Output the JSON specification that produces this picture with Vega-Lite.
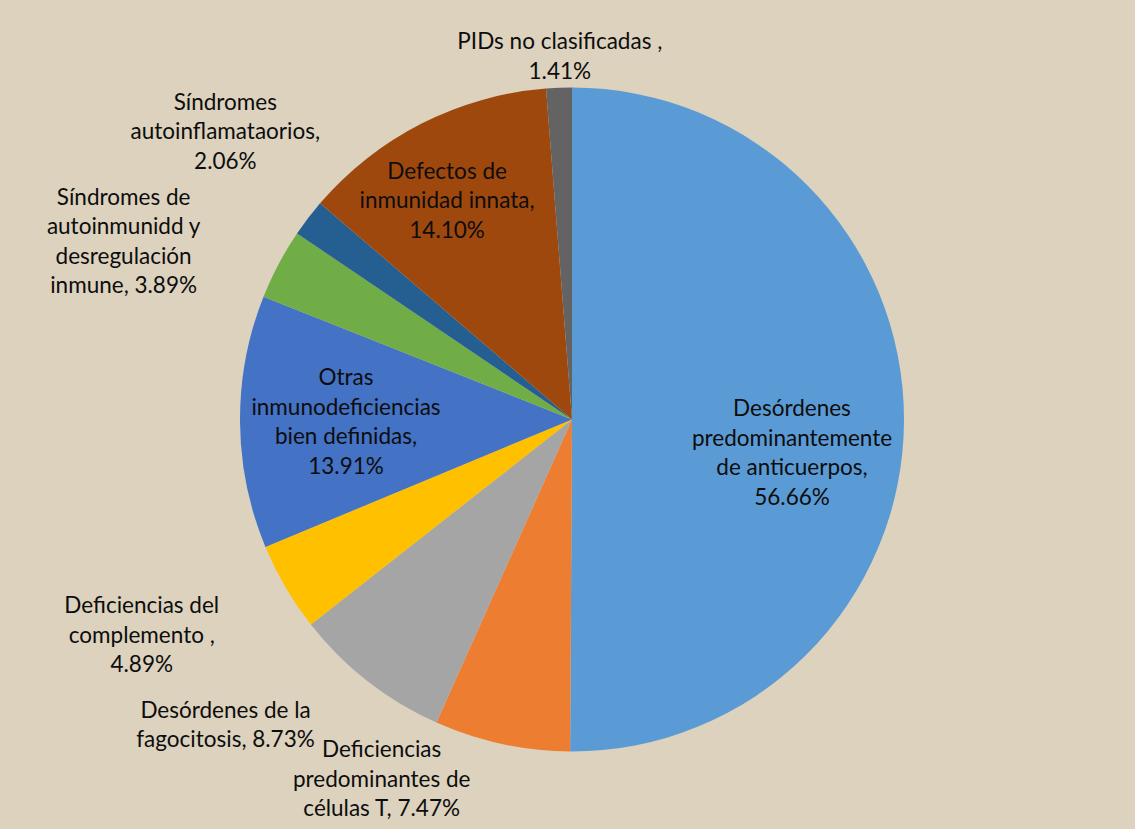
{
  "$schema": "https://vega.github.io/schema/vega-lite/v6.json",
  "autosize": {"type": "none"},
  "width": 1130,
  "height": 827,
  "padding": {"left": 7, "top": 6, "right": 0, "bottom": 0},
  "background": "#DCD2BE",
  "config": {
    "view": {"stroke": null},
    "text": {"font": "Lato", "fontSize": 22.5, "color": "#0D0D0D"}
  },
  "data": {
    "values": [
      {"idx": 1, "cat": "Desórdenes predominantemente de anticuerpos", "value": 56.66, "label": "Desórdenes\npredominantemente\nde anticuerpos,\n56.66%"},
      {"idx": 2, "cat": "Deficiencias predominantes de células T", "value": 7.47, "label": "Deficiencias\npredominantes de\ncélulas T, 7.47%"},
      {"idx": 3, "cat": "Desórdenes de la fagocitosis", "value": 8.73, "label": "Desórdenes de la\nfagocitosis, 8.73%"},
      {"idx": 4, "cat": "Deficiencias del complemento", "value": 4.89, "label": "Deficiencias del\ncomplemento ,\n4.89%"},
      {"idx": 5, "cat": "Otras inmunodeficiencias bien definidas", "value": 13.91, "label": "Otras\ninmunodeficiencias\nbien definidas,\n13.91%"},
      {"idx": 6, "cat": "Síndromes de autoinmunidd y desregulación inmune", "value": 3.89, "label": "Síndromes de\nautoinmunidd y\ndesregulación\ninmune, 3.89%"},
      {"idx": 7, "cat": "Síndromes autoinflamataorios", "value": 2.06, "label": "Síndromes\nautoinflamataorios,\n2.06%"},
      {"idx": 8, "cat": "Defectos de inmunidad innata", "value": 14.10, "label": "Defectos de\ninmunidad innata,\n14.10%"},
      {"idx": 9, "cat": "PIDs no clasificadas", "value": 1.41, "label": "PIDs no clasificadas ,\n1.41%"}
    ]
  },
  "encoding": {
    "theta": {"field": "value", "type": "quantitative", "stack": true},
    "order": {"field": "idx", "type": "quantitative"}
  },
  "layer": [
    {
      "mark": {"type": "arc", "outerRadius": 332},
      "encoding": {
        "color": {
          "field": "cat",
          "type": "nominal",
          "scale": {
            "domain": ["Desórdenes predominantemente de anticuerpos", "Deficiencias predominantes de células T", "Desórdenes de la fagocitosis", "Deficiencias del complemento", "Otras inmunodeficiencias bien definidas", "Síndromes de autoinmunidd y desregulación inmune", "Síndromes autoinflamataorios", "Defectos de inmunidad innata", "PIDs no clasificadas"],
            "range": ["#5B9BD5", "#ED7D31", "#A5A5A5", "#FFC000", "#4472C4", "#70AD47", "#255E91", "#9E480E", "#636363"]
          },
          "legend": null
        }
      }
    },
    {"mark": {"type": "text", "radius": 220, "dx": 0, "dy": -11, "lineBreak": "\n", "lineHeight": 29.5, "align": "center", "baseline": "middle"},
     "encoding": {"text": {"condition": {"test": "datum.idx === 1", "field": "label"}, "value": ""}}},
    {"mark": {"type": "text", "radius": 380, "dx": -110, "dy": -40.5, "lineBreak": "\n", "lineHeight": 29.5, "align": "center", "baseline": "middle"},
     "encoding": {"text": {"condition": {"test": "datum.idx === 2", "field": "label"}, "value": ""}}},
    {"mark": {"type": "text", "radius": 420, "dx": -88, "dy": -40, "lineBreak": "\n", "lineHeight": 29.5, "align": "center", "baseline": "middle"},
     "encoding": {"text": {"condition": {"test": "datum.idx === 3", "field": "label"}, "value": ""}}},
    {"mark": {"type": "text", "radius": 480, "dx": -16, "dy": -55.5, "lineBreak": "\n", "lineHeight": 29.5, "align": "center", "baseline": "middle"},
     "encoding": {"text": {"condition": {"test": "datum.idx === 4", "field": "label"}, "value": ""}}},
    {"mark": {"type": "text", "radius": 226, "dx": 0, "dy": -43, "lineBreak": "\n", "lineHeight": 29.5, "align": "center", "baseline": "middle"},
     "encoding": {"text": {"condition": {"test": "datum.idx === 5", "field": "label"}, "value": ""}}},
    {"mark": {"type": "text", "radius": 470, "dx": -33, "dy": -2, "lineBreak": "\n", "lineHeight": 29.5, "align": "center", "baseline": "middle"},
     "encoding": {"text": {"condition": {"test": "datum.idx === 6", "field": "label"}, "value": ""}}},
    {"mark": {"type": "text", "radius": 450, "dx": 11, "dy": -43.5, "lineBreak": "\n", "lineHeight": 29.5, "align": "center", "baseline": "middle"},
     "encoding": {"text": {"condition": {"test": "datum.idx === 7", "field": "label"}, "value": ""}}},
    {"mark": {"type": "text", "radius": 245, "dx": -14, "dy": -29.5, "lineBreak": "\n", "lineHeight": 29.5, "align": "center", "baseline": "middle"},
     "encoding": {"text": {"condition": {"test": "datum.idx === 8", "field": "label"}, "value": ""}}},
    {"mark": {"type": "text", "radius": 363, "dx": 2, "dy": -14.75, "lineBreak": "\n", "lineHeight": 29.5, "align": "center", "baseline": "middle"},
     "encoding": {"text": {"condition": {"test": "datum.idx === 9", "field": "label"}, "value": ""}}}
  ]
}
